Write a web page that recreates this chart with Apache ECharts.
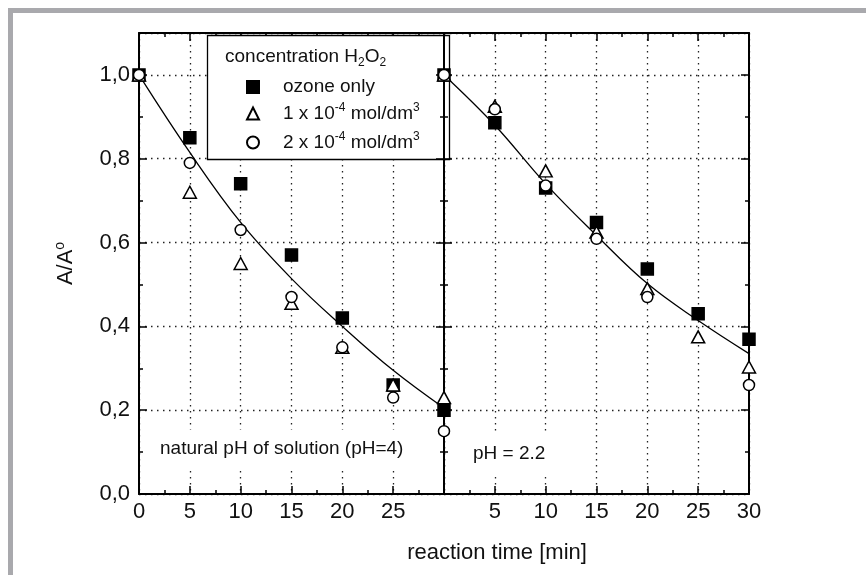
<!DOCTYPE html>
<html>
<head>
<meta charset="utf-8">
<script src="https://cdn.jsdelivr.net/npm/echarts@6/dist/echarts.min.js"></script>
<style>
html, body { margin: 0; padding: 0; background: #fff; }
#main { width: 866px; height: 575px; }
</style>
</head>
<body>
<div id="main"></div>
<script>
var chartDom = document.getElementById('main');
var myChart = echarts.init(chartDom);
var option;

// reaction time [min]
var times = [0, 5, 10, 15, 20, 25, 30];

// natural pH of solution (pH=4)
var ozoneLeft = [1.0, 0.85, 0.74, 0.57, 0.42, 0.26, 0.2];
var h1Left = [1.0, 0.72, 0.55, 0.455, 0.35, 0.26, 0.23];
var h2Left = [1.0, 0.79, 0.63, 0.47, 0.35, 0.23, 0.15];
var fitLeft = [1.0, 0.815, 0.648, 0.514, 0.4, 0.295, 0.205];

// pH = 2.2
var ozoneRight = [1.0, 0.886, 0.73, 0.648, 0.537, 0.43, 0.369];
var h1Right = [1.0, 0.925, 0.771, 0.625, 0.49, 0.375, 0.303];
var h2Right = [1.0, 0.918, 0.736, 0.609, 0.47, null, 0.26];
var fitRight = [1.0, 0.88, 0.74, 0.617, 0.502, 0.414, 0.335];

var seriesNames = ['ozone only', '1 x 10-4 mol/dm3', '2 x 10-4 mol/dm3'];
var legendText = {
  'ozone only': 'ozone only',
  '1 x 10-4 mol/dm3': '1 x 10{sup|-4} mol/dm{sup|3}',
  '2 x 10-4 mol/dm3': '2 x 10{sup|-4} mol/dm{sup|3}',
};

var FONT = 'Liberation Sans';

function pairs(ys) {
  return times.map((t, i) => [t, ys[i]]).filter((p) => p[1] != null);
}

var tick = { show: true, inside: true, length: 8, lineStyle: { color: '#000', width: 1.5 } };
var minor = { show: true, splitNumber: 2, length: 4, lineStyle: { color: '#000', width: 1.5 } };
var dotted = { show: true, lineStyle: { color: '#222', width: 1.3, type: [1.5, 4.5] } };
var line = { show: true, onZero: false, lineStyle: { color: '#000', width: 2 } };

function xAx(grid, pos, labelFn, split) {
  return {
    type: 'value', gridIndex: grid, position: pos, min: 0, max: 30, interval: 5,
    axisLine: line, axisTick: tick, minorTick: minor,
    splitLine: split ? dotted : { show: false },
    axisLabel: labelFn
      ? { formatter: labelFn, fontSize: 22, color: '#111', margin: 7, fontFamily: FONT }
      : { show: false },
  };
}

function yAx(grid, pos, labels, split, z) {
  var ax = {
    type: 'value', gridIndex: grid, position: pos, min: 0, max: 1.1, interval: 0.2, z: z,
    axisLine: line, axisTick: tick, minorTick: minor,
    splitLine: split ? dotted : { show: false },
    axisLabel: labels
      ? {
          formatter: (v) => (v > 1.05 ? '' : v.toFixed(1).replace('.', ',')),
          fontSize: 22, color: '#111', margin: 9, fontFamily: FONT,
        }
      : { show: false },
  };
  return ax;
}

var yLeft = yAx(0, 'left', true, true, 0);
yLeft.name = 'A/A{sup|o}';
yLeft.nameLocation = 'middle';
yLeft.nameGap = 60;
yLeft.nameTextStyle = {
  fontSize: 22, color: '#111', fontFamily: FONT,
  rich: { sup: { fontSize: 14, fontFamily: FONT, color: '#111', padding: [0, 0, 12, 0] } },
};

function scatter(name, ys, xi, yi, symbol, size, fill) {
  return {
    name: name, type: 'scatter', xAxisIndex: xi, yAxisIndex: yi, z: 3,
    symbol: symbol, symbolSize: size,
    itemStyle: { color: fill, borderColor: '#000', borderWidth: 1.5, opacity: 1 },
    data: pairs(ys),
  };
}

function fit(ys, xi, yi) {
  return {
    type: 'line', xAxisIndex: xi, yAxisIndex: yi, z: 3, smooth: 0.4,
    showSymbol: false, silent: true,
    lineStyle: { color: '#000', width: 1.3 },
    data: pairs(ys),
  };
}

var legendTops = [76, 102, 131];

option = {
  backgroundColor: '#fff',
  animation: false,
  textStyle: { fontFamily: FONT },
  grid: [
    { left: 139, right: 422, top: 33, bottom: 81, outerBoundsMode: 'none' },
    { left: 444, right: 117, top: 33, bottom: 81, outerBoundsMode: 'none' },
  ],
  xAxis: [
    xAx(0, 'bottom', (v) => (v === 30 ? '' : String(v)), true),
    xAx(0, 'top', null, false),
    xAx(1, 'bottom', (v) => (v === 0 ? '' : String(v)), true),
    xAx(1, 'top', null, false),
  ],
  yAxis: [
    yLeft,
    yAx(0, 'right', false, false, 2),
    yAx(1, 'left', false, false, 2),
    yAx(1, 'right', false, true, 0),
  ],
  legend: seriesNames.map((n, i) => ({
    data: [n],
    left: 246,
    top: legendTops[i],
    padding: 0,
    itemWidth: 12,
    itemHeight: 12,
    selectedMode: false,
    formatter: (name) => legendText[name],
    textStyle: {
      fontSize: 19, color: '#111', fontFamily: FONT, lineHeight: 22,
      padding: [0, 0, 0, 19],
      rich: { sup: { fontSize: 12, fontFamily: FONT, color: '#111', padding: [0, 0, 11, 0] } },
    },
  })),
  graphic: [
    { type: 'rect', z: 0, shape: { x: 8, y: 8, width: 858, height: 5 }, style: { fill: '#a9a9ad' } },
    { type: 'rect', z: 0, shape: { x: 8, y: 8, width: 5, height: 567 }, style: { fill: '#a9a9ad' } },
    {
      type: 'rect', z: 1,
      shape: { x: 207.5, y: 35.5, width: 242, height: 124 },
      style: { fill: '#fff', stroke: '#000', lineWidth: 1.3 },
    },
    {
      type: 'text', z: 5, x: 225, y: 57,
      style: {
        text: 'concentration H{sub|2}O{sub|2}', fontSize: 19, fontFamily: FONT, fill: '#111',
        verticalAlign: 'middle',
        rich: { sub: { fontSize: 12, fontFamily: FONT, fill: '#111', padding: [11, 0, 0, 0] } },
      },
    },
    {
      type: 'text', z: 5, x: 157, y: 449,
      style: {
        text: 'natural pH of solution (pH=4)', fontSize: 19, fontFamily: FONT, fill: '#111',
        verticalAlign: 'middle', backgroundColor: '#fff', padding: [10, 3, 10, 3],
      },
    },
    {
      type: 'text', z: 5, x: 470, y: 454,
      style: {
        text: 'pH = 2.2', fontSize: 19, fontFamily: FONT, fill: '#111',
        verticalAlign: 'middle', backgroundColor: '#fff', padding: [10, 3, 10, 3],
      },
    },
    {
      type: 'text', z: 5, x: 497, y: 553,
      style: { text: 'reaction time [min]', fontSize: 22, fontFamily: FONT, fill: '#111', align: 'center', verticalAlign: 'middle' },
    },
  ],
  series: [
    fit(fitLeft, 0, 0),
    fit(fitRight, 2, 2),
    scatter(seriesNames[0], ozoneLeft, 0, 0, 'rect', 12, '#000'),
    scatter(seriesNames[1], h1Left, 0, 0, 'triangle', [13, 12], '#fff'),
    scatter(seriesNames[2], h2Left, 0, 0, 'circle', 11, '#fff'),
    scatter(seriesNames[0], ozoneRight, 2, 2, 'rect', 12, '#000'),
    scatter(seriesNames[1], h1Right, 2, 2, 'triangle', [13, 12], '#fff'),
    scatter(seriesNames[2], h2Right, 2, 2, 'circle', 11, '#fff'),
  ],
};

option && myChart.setOption(option);

window.onresize = function () {
  myChart.resize();
};
</script>
</body>
</html>
